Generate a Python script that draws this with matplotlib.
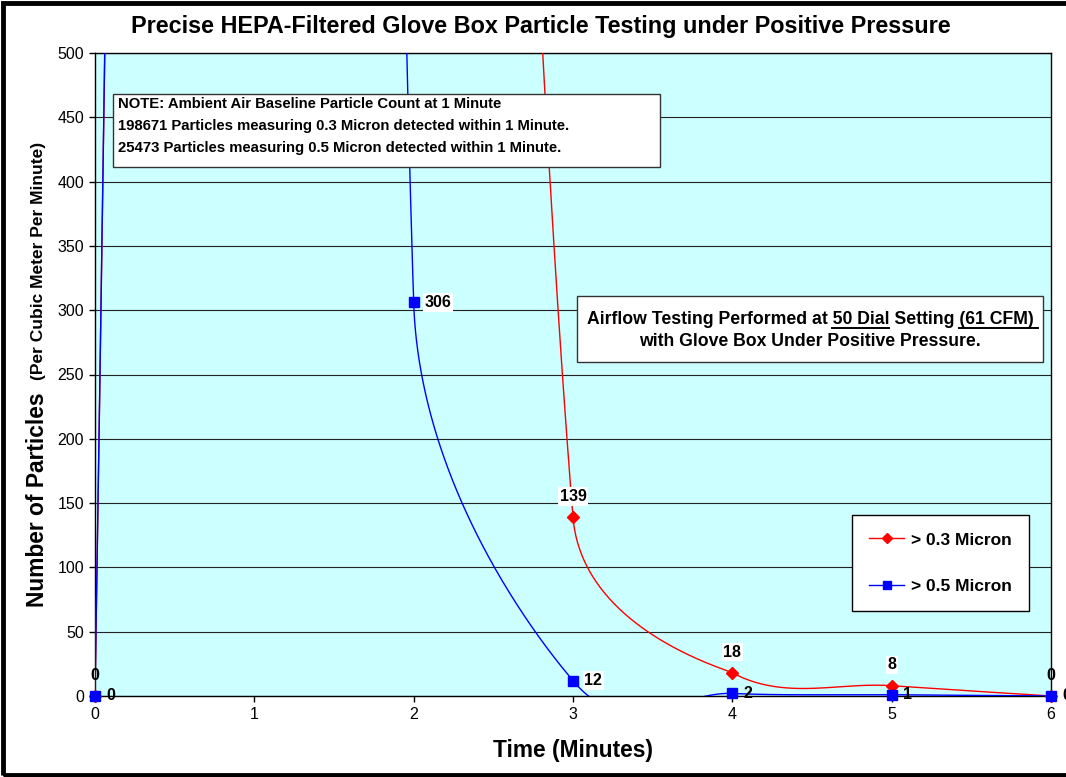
import numpy as np
import matplotlib
matplotlib.use("Agg")
import matplotlib.pyplot as plt
from matplotlib.patches import Rectangle
from matplotlib.lines import Line2D

plt.rcParams['font.family'] = ['Liberation Sans', 'DejaVu Sans']

# ---------------- data ----------------
minutes = [0, 1, 2, 3, 4, 5, 6]
micron_03 = [0, 198671, 3100, 139, 18, 8, 0]
micron_05 = [0, 25473, 306, 12, 2, 1, 0]
series_names = ['> 0.3 Micron', '> 0.5 Micron']
series_colors = ['#FF0000', '#0000FF']
x_ticks = [0, 1, 2, 3, 4, 5, 6]
y_ticks = [0, 50, 100, 150, 200, 250, 300, 350, 400, 450, 500]

title = 'Precise HEPA-Filtered Glove Box Particle Testing under Positive Pressure'
x_label = 'Time (Minutes)'
y_label_main = 'Number of Particles'
y_label_sub = '(Per Cubic Meter Per Minute)'
note_lines = ['NOTE: Ambient Air Baseline Particle Count at 1 Minute',
              '198671 Particles measuring 0.3 Micron detected within 1 Minute.',
              '25473 Particles measuring 0.5 Micron detected within 1 Minute.']
airflow_parts = [('Airflow Testing Performed at ', False), ('50 Dial', True),
                 (' Setting ', False), ('(61 CFM) ', True)]
airflow_line2 = 'with Glove Box Under Positive Pressure.'

# ---------------- figure ----------------
W, H = 1066, 777
fig = plt.figure(figsize=(W / 100, H / 100), dpi=100)
fig.patch.set_facecolor('white')


def fx(px):
    return px / W


def fy(py):
    return 1 - py / H


ax = fig.add_axes([fx(95), fy(696), 956 / W, 643 / H])
ax.set_xlim(0, 6)
ax.set_ylim(0, 500)
ax.set_facecolor('#CCFFFF')
ax.set_xticks(x_ticks)
ax.set_yticks(y_ticks)
ax.tick_params(direction='out', length=4, width=1, labelsize=11.5, pad=4, color='black')
ax.yaxis.grid(True, color='#222222', lw=0.8, zorder=0)
ax.set_axisbelow(True)
for s in ax.spines.values():
    s.set_color('black')
    s.set_linewidth(1.0)


def excel_smooth(xs, ys, clamp_px=10000):
    T = ax.transData
    pts = T.transform(np.column_stack([xs, ys]).astype(float))
    base = T.transform((0, 0))[1]
    pts[:, 1] = np.minimum(pts[:, 1], base + clamp_px)
    n = len(pts)
    tt = np.linspace(0, 1, 500)[:, None]
    out = []
    for i in range(n - 1):
        p1, p2 = pts[i], pts[i + 1]
        first, last = i == 0, i + 2 >= n
        p0 = pts[i] if first else pts[i - 1]
        p3 = pts[i + 1] if last else pts[i + 2]
        d02 = np.hypot(*(p2 - p0))
        d12 = np.hypot(*(p2 - p1))
        d13 = np.hypot(*(p3 - p1))
        f1 = 1 / 3 if first else 1 / 6
        f2 = 1 / 3 if last else 1 / 6
        b1 = d02 / 6 < d12 / 2
        b2 = d13 / 6 < d12 / 2
        if b1 and b2:
            a = p1 + (p2 - p0) * f1
            b = p2 - (p3 - p1) * f2
        elif (not b1) and (not b2):
            a = p1 + (p2 - p0) * d12 / 2 / d02
            b = p2 - (p3 - p1) * d12 / 2 / d13
        elif not b1:
            a = p1 + (p2 - p0) * d12 / 2 / d02
            b = p2 - (p3 - p1) * d12 / 2 / d02
        else:
            a = p1 + (p2 - p0) * d12 / 2 / d13
            b = p2 - (p3 - p1) * d12 / 2 / d13
        seg = (1 - tt) ** 3 * p1 + 3 * (1 - tt) ** 2 * tt * a + 3 * (1 - tt) * tt ** 2 * b + tt ** 3 * p2
        out.append(seg if i == 0 else seg[1:])
    return T.inverted().transform(np.vstack(out))


markers = ['D', 's']
msizes = [6, 6.5]
series = [micron_03, micron_05]
handles = []
for k, (vals, col, mk, ms, name) in enumerate(zip(series, series_colors, markers, msizes, series_names)):
    curve = excel_smooth(minutes, vals)
    ax.plot(curve[:, 0], curve[:, 1], color=col, lw=1.0, zorder=3 + k)
    xs = np.array(minutes)
    ys = np.array(vals)
    vis = ys <= 500
    ax.plot(xs[vis], ys[vis], linestyle='none', marker=mk, ms=ms, color=col,
            mec=col, clip_on=False, zorder=5 + k)
    handles.append(Line2D([0], [0], color=col, lw=1.0, marker=mk, ms=ms - 1, mec=col))

# data labels
lab_kw = dict(fontsize=11.5, fontweight='bold', color='black', annotation_clip=False, zorder=8)
for xv, yv in zip(minutes, micron_03):
    if yv <= 500:
        bb = dict(boxstyle='square,pad=0.1', fc='white', ec='none') if yv > 0 else None
        ax.annotate(str(yv), (xv, yv), xytext=(0, 15), textcoords='offset points',
                    ha='center', va='center', bbox=bb, **lab_kw)
for xv, yv in zip(minutes, micron_05):
    if yv <= 500:
        bb = dict(boxstyle='square,pad=0.1', fc='white', ec='none') if yv > 5 else None
        ax.annotate(str(yv), (xv, yv), xytext=(8, 0), textcoords='offset points',
                    ha='left', va='center', bbox=bb, **lab_kw)

# legend
leg = ax.legend(handles, series_names, loc='upper left', bbox_to_anchor=(fx(852), fy(515)),
                bbox_transform=fig.transFigure, frameon=True, fancybox=False, framealpha=1,
                edgecolor='black', prop=dict(weight='bold', size=12.5), handlelength=2.0,
                handletextpad=0.4, borderpad=1.0, labelspacing=1.8, borderaxespad=0)
leg.get_frame().set_linewidth(1.0)
leg.set_zorder(10)

# titles and axis labels
fig.text(fx(541), fy(26), title, ha='center', va='center', fontsize=16.8, fontweight='bold')
ax.set_xlabel(x_label, fontsize=16.4, fontweight='bold')
ax.xaxis.set_label_coords(0.5, (696 - 750) / 643)
ax.xaxis.label.set_va('center')
fig.text(fx(44), fy(500), y_label_main, rotation=90, rotation_mode='anchor', ha='center',
         va='baseline', fontsize=16.4, fontweight='bold')
fig.text(fx(43), fy(261), y_label_sub, rotation=90, rotation_mode='anchor', ha='center',
         va='baseline', fontsize=12.5, fontweight='bold')

# note box
fig.add_artist(Rectangle((fx(113), fy(167)), (660 - 113) / W, (167 - 94) / H,
                         transform=fig.transFigure, fc='white', ec='#333333', lw=1.0, zorder=6))
for i, line in enumerate(note_lines):
    fig.text(fx(118), fy(104 + 22 * i), line, ha='left', va='center', fontsize=10.7,
             fontweight='bold', zorder=7)

# airflow box
fig.add_artist(Rectangle((fx(577), fy(362)), (1043 - 577) / W, (362 - 296) / H,
                         transform=fig.transFigure, fc='white', ec='#333333', lw=1.0, zorder=6))
af_kw = dict(fontsize=12.7, fontweight='bold', zorder=7)
line1 = ''.join(p for p, _ in airflow_parts).rstrip()
fig.text(fx(810), fy(324), line1, ha='center', va='baseline', **af_kw)
fig.text(fx(810), fy(346), airflow_line2, ha='center', va='baseline', **af_kw)

renderer = fig.canvas.get_renderer()


def tw(s):
    t1 = fig.text(0, 0, s + '|', **af_kw)
    t2 = fig.text(0, 0, '|', **af_kw)
    w = t1.get_window_extent(renderer).width - t2.get_window_extent(renderer).width
    t1.remove()
    t2.remove()
    return w


left = 810 - tw(line1) / 2
pos = left
for part, ul in airflow_parts:
    w = tw(part)
    if ul:
        fig.add_artist(Line2D([fx(pos), fx(pos + w)], [fy(328), fy(328)],
                              transform=fig.transFigure, color='black', lw=1.4, zorder=7))
    pos += w

# outer frame
fig.add_artist(Rectangle((fx(2.5), fy(775)), (W + 10) / W, 772 / H, transform=fig.transFigure,
                         fc='none', ec='black', lw=3.5, zorder=20, clip_on=False))

fig.savefig('out.png', dpi=100, facecolor='white')
